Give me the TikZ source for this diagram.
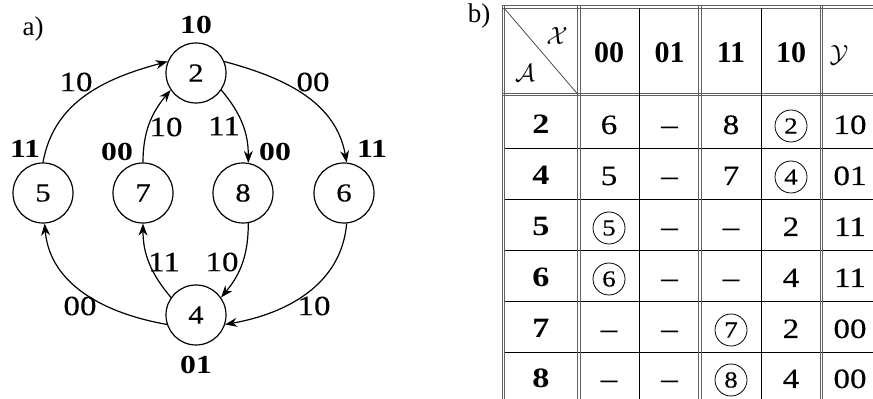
\documentclass[tikz,border=0pt]{standalone}
\usepackage{fontspec}
\setmainfont{Liberation Serif}
\newfontfamily\cam[Ligatures=TeX,FakeStretch=1.18,FakeBold=0.3]{Liberation Serif}
\newfontfamily\camb[Ligatures=TeX,FakeStretch=1.22,BoldFont={Liberation Serif Bold},UprightFont={Liberation Serif Bold}]{Liberation Serif}
\usetikzlibrary{arrows.meta}
\begin{document}
\begin{tikzpicture}[x=1pt,y=1pt,
  st/.style={circle,draw,line width=1.2pt,minimum size=60pt,inner sep=0pt,font=\fontsize{26}{26}\cam},
  arr/.style={line width=1.2pt,-{Stealth[length=12pt,width=9pt]}},
  el/.style={font=\fontsize{28}{28}\cam,inner sep=0pt},
  bl/.style={font=\fontsize{26}{26}\camb,inner sep=0pt},
  dbl/.style={draw=gray!75!black,line width=0.7pt},
  sgl/.style={draw=black,line width=0.8pt},
  tt/.style={anchor=base,inner sep=0pt,font=\fontsize{28}{28}\cam},
  tr/.style={anchor=base,inner sep=0pt,font=\fontsize{28}{28}\camb},
  th/.style={anchor=base,inner sep=0pt,font=\fontsize{30}{30}\selectfont\bfseries},
  cc/.style={circle,draw,line width=0.8pt,minimum size=32pt,inner sep=0pt,font=\fontsize{23}{23}\cam},
  sc/.style={inner sep=0pt,font=\fontsize{34}{34}\selectfont},
]
\useasboundingbox (0,0) rectangle (873,399);
% ---------- a) graph ----------
\node[inner sep=0pt,font=\fontsize{27}{27}\selectfont] (la) at (33,370) {a)};
\node[st] (n2) at (196,326) {2};
\node[st] (n5) at (43,206) {5};
\node[st] (n7) at (143,206) {7};
\node[st] (n8) at (243,206) {8};
\node[st] (n6) at (344,206) {6};
\node[st] (n4) at (196,84) {4};
% outputs
\node[bl] (o2) at (196,374) {10};
\node[bl] (o5) at (25,250) {11};
\node[bl] (o7) at (117,247) {00};
\node[bl] (o8) at (275,247) {00};
\node[bl] (o6) at (372,250) {11};
\node[bl] (o4) at (196,34) {01};
% edges
\draw[arr] (n5.north) to[out=80,in=195] (n2.158);
\draw[arr] (n2.22) to[out=-15,in=100] (n6.85);
\draw[arr] (n7.north) to[out=90,in=230] (n2.214);
\draw[arr] (n2.326) to[out=-50,in=90] (n8.80);
\draw[arr] (n4.145) to[out=130,in=-90] (n7.south);
\draw[arr] (n8.-80) to[out=-90,in=50] (n4.35);
\draw[arr] (n4.198) to[out=170,in=-85] (n5.-87);
\draw[arr] (n6.-85) to[out=-95,in=10] (n4.-18);
% edge labels
\node[el] (e52) at (76,317) {10};
\node[el] (e26) at (313,317) {00};
\node[el] (e72) at (166,272) {10};
\node[el] (e28) at (224,273) {11};
\node[el] (e47) at (164,137) {11};
\node[el] (e84) at (222,137) {10};
\node[el] (e45) at (80,93) {00};
\node[el] (e64) at (314,93) {10};
% ---------- b) table ----------
\node[inner sep=0pt,font=\fontsize{27}{27}\selectfont] (lb) at (479,383) {b)};
% horizontal lines
\draw[dbl] (502.2,393.3) -- (873,393.3);
\draw[dbl] (502.2,390.7) -- (873,390.7);
\draw[dbl] (502.2,305.8) -- (873,305.8);
\draw[dbl] (502.2,303.2) -- (873,303.2);
\foreach \y in {251,200,149,98,47} \draw[sgl] (503.5,\y) -- (873,\y);
% vertical lines
\foreach \x in {503.5,579,700,821.5} {
  \draw[dbl] (\x-1.3,393.3) -- (\x-1.3,0);
  \draw[dbl] (\x+1.3,393.3) -- (\x+1.3,0);
}
\foreach \x in {639,761} \draw[sgl] (\x,391) -- (\x,0);
% diagonal
\draw[draw=gray!60!black,line width=0.8pt] (504,391) -- (578,304.5);
\node[sc] (hx) at (557,363) {$\mathcal{X}$};
\node[sc] (ha) at (525,326) {$\mathcal{A}$};
\node[sc] (hy) at (839,344) {$\mathcal{Y}$};
% header
\node[th] (h00) at (609,336) {00};
\node[th] (h01) at (669.5,336) {01};
\node[th] (h11) at (731,336) {11};
\node[th] (h10) at (791,336) {10};
% row 2 (baseline 265)
\node[tr] (r2) at (541,265) {2};
\node[tt] (r2a) at (609,265) {6};
\node[tt] (r2b) at (669.5,265) {–};
\node[tt] (r2c) at (731,265) {8};
\node[cc] (r2d) at (791,273) {2};
\node[tt] (r2y) at (850,265) {10};
% row 4 (baseline 214)
\node[tr] (r4) at (541,214) {4};
\node[tt] (r4a) at (609,214) {5};
\node[tt] (r4b) at (669.5,214) {–};
\node[tt] (r4c) at (731,214) {7};
\node[cc] (r4d) at (791,222) {4};
\node[tt] (r4y) at (850,214) {01};
% row 5 (baseline 163)
\node[tr] (r5) at (541,163) {5};
\node[cc] (r5a) at (609,171) {5};
\node[tt] (r5b) at (669.5,163) {–};
\node[tt] (r5c) at (731,163) {–};
\node[tt] (r5d) at (791,163) {2};
\node[tt] (r5y) at (850,163) {11};
% row 6 (baseline 112)
\node[tr] (r6) at (541,112) {6};
\node[cc] (r6a) at (609,120) {6};
\node[tt] (r6b) at (669.5,112) {–};
\node[tt] (r6c) at (731,112) {–};
\node[tt] (r6d) at (791,112) {4};
\node[tt] (r6y) at (850,112) {11};
% row 7 (baseline 61)
\node[tr] (r7) at (541,61) {7};
\node[tt] (r7a) at (609,61) {–};
\node[tt] (r7b) at (669.5,61) {–};
\node[cc] (r7c) at (731,69) {7};
\node[tt] (r7d) at (791,61) {2};
\node[tt] (r7y) at (850,61) {00};
% row 8 (baseline 11)
\node[tr] (r8) at (541,11) {8};
\node[tt] (r8a) at (609,11) {–};
\node[tt] (r8b) at (669.5,11) {–};
\node[cc] (r8c) at (731,19) {8};
\node[tt] (r8d) at (791,11) {4};
\node[tt] (r8y) at (850,11) {00};
\end{tikzpicture}
\end{document}
